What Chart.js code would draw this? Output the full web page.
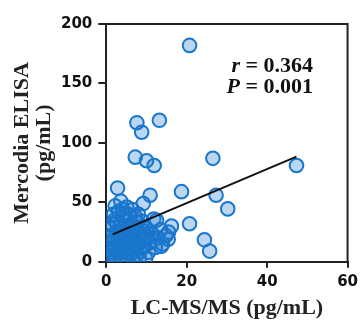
<!DOCTYPE html>
<html>
<head>
<meta charset="utf-8">
<script src="https://cdn.jsdelivr.net/npm/chart.js@4"></script>
<style>
  html, body { margin: 0; padding: 0; background: #fff; }
  #wrap { width: 363px; height: 320px; }
</style>
</head>
<body>
<div id="wrap"><canvas id="c" width="363" height="320"></canvas></div>
<script>
// Data
const xValues = [
  20.7, 7.6, 13.2, 8.8, 7.2, 10.0, 11.9, 26.5, 47.3, 2.8, 3.6, 10.9, 9.2, 18.7, 27.3, 30.2, 20.7, 24.4, 25.7,
  12.5, 16.2, 15.4, 13.7, 11.6, 2.2, 5.1, 5.9,
  1.0, 1.5, 2.0, 2.5, 3.0, 3.2, 3.5, 4.0, 4.2, 4.5, 5.0, 5.2, 5.5, 6.0, 6.0, 6.3, 6.8, 7.0, 7.2, 7.5,
  8.0, 8.2, 8.5, 9.0, 9.2, 9.5, 10.0, 10.5, 10.8, 11.2, 11.8, 12.2, 12.8, 13.5, 14.0, 14.8, 15.5,
  2.0, 1.0, 0.8, 3.0, 4.0, 6.5, 8.0, 2.0, 5.0, 7.5, 9.8, 3.8, 1.8, 0.5,
  0.5, 1.0, 1.2, 1.5, 2.0, 2.3, 2.8, 3.3, 3.6, 4.2, 4.8, 5.3, 5.8, 6.2, 6.6, 7.0, 7.3, 7.8, 8.4, 8.8,
  9.2, 9.6, 4.5, 2.5, 6.0, 1.3, 3.5, 5.5, 7.8, 10.2
];
const yValues = [
  182, 117, 119, 109, 88, 85, 81, 87, 81, 62, 51, 56, 49, 59, 56, 44.5, 32, 18.5, 9,
  35, 30, 19, 13, 23, 47, 46, 39,
  5, 12, 18, 25, 8, 15, 30, 20, 3, 36, 12, 26, 40, 6, 18, 32, 22, 10, 38, 28,
  15, 3, 24, 34, 12, 20, 28, 8, 16, 24, 36, 12, 20, 27, 15, 22, 25,
  35, 28, 20, 42, 44, 44, 40, 2, 1, 5, 3, 10, 40, 10,
  3, 15, 22, 8, 12, 4, 20, 25, 2, 14, 22, 7, 16, 25, 1, 19, 13, 23, 9, 18,
  26, 14, 30, 33, 30, 32, 18, 20, 33, 21
];
const fitX = [1.6, 47.3];
const fitY = [23, 88.5];
const xTicks = [0, 20, 40, 60];
const yTicks = [0, 50, 100, 150, 200];
const xTitle = 'LC-MS/MS (pg/mL)';
const yTitle = ['Mercodia ELISA', '(pg/mL)'];
const statR = '0.364';
const statP = '0.001';

const points = xValues.map((x, i) => ({ x: x, y: yValues[i] }));
const fitLine = fitX.map((x, i) => ({ x: x, y: fitY[i] }));

const boxPlugin = {
  id: 'box',
  afterDraw(chart) {
    const { ctx, chartArea: a } = chart;
    ctx.save();
    ctx.strokeStyle = '#222';
    ctx.lineWidth = 2;
    ctx.beginPath();
    ctx.moveTo(a.left, a.top);
    ctx.lineTo(a.right, a.top);
    ctx.lineTo(a.right, a.bottom);
    ctx.stroke();
    ctx.restore();
  }
};

const statPlugin = {
  id: 'stats',
  afterDraw(chart) {
    const { ctx, scales } = chart;
    const xr = scales.x.getPixelForValue(51.4);
    const lines = [['r', ' = ' + statR, 164], ['P', ' = ' + statP, 147]];
    ctx.save();
    ctx.fillStyle = '#111';
    ctx.textBaseline = 'middle';
    lines.forEach(([v, rest, yv]) => {
      const y = scales.y.getPixelForValue(yv);
      ctx.font = 'bold 22px "Liberation Serif"';
      const w2 = ctx.measureText(rest).width;
      ctx.textAlign = 'right';
      ctx.fillText(rest, xr, y);
      ctx.font = 'italic bold 22px "Liberation Serif"';
      ctx.fillText(v, xr - w2, y);
    });
    ctx.restore();
  }
};

new Chart(document.getElementById('c'), {
  type: 'scatter',
  data: {
    datasets: [
      {
        type: 'scatter',
        data: points,
        pointRadius: 6.8,
        pointHoverRadius: 6.8,
        borderWidth: 2,
        borderColor: 'rgb(24,118,204)',
        backgroundColor: 'rgba(30,120,205,0.3)',
        order: 2
      },
      {
        type: 'line',
        data: fitLine,
        borderColor: '#111',
        borderWidth: 2,
        pointRadius: 0,
        fill: false,
        order: 1
      }
    ]
  },
  options: {
    responsive: false,
    animation: false,
    devicePixelRatio: 1,
    layout: { padding: { top: 24, right: 14, left: 11, bottom: -4 } },
    plugins: { legend: { display: false }, tooltip: { enabled: false } },
    scales: {
      x: {
        type: 'linear',
        min: 0, max: 60,
        afterBuildTicks: (s) => { s.ticks = xTicks.map(v => ({ value: v })); },
        grid: { display: true, drawOnChartArea: false, drawTicks: true, tickLength: 6, color: '#222', lineWidth: 2 },
        border: { display: true, color: '#222', width: 2 },
        ticks: { color: '#111', font: { family: 'DejaVu Sans', weight: 'bold', size: 15 }, padding: 5, maxRotation: 0 },
        title: { display: true, text: xTitle, color: '#222', font: { family: 'Liberation Serif', weight: 'bold', size: 22, lineHeight: 1.1 }, padding: { top: 0, bottom: 4 } }
      },
      y: {
        type: 'linear',
        min: 0, max: 200,
        afterBuildTicks: (s) => { s.ticks = yTicks.map(v => ({ value: v })); },
        grid: { display: true, drawOnChartArea: false, drawTicks: true, tickLength: 8, color: '#222', lineWidth: 2 },
        border: { display: true, color: '#222', width: 2 },
        ticks: { color: '#111', font: { family: 'DejaVu Sans', weight: 'bold', size: 15 }, padding: 6 },
        title: { display: true, text: yTitle, color: '#222', font: { family: 'Liberation Serif', weight: 'bold', size: 22, lineHeight: 1.0 }, padding: { top: 0, bottom: 0 } }
      }
    }
  },
  plugins: [boxPlugin, statPlugin]
});
</script>
</body>
</html>
